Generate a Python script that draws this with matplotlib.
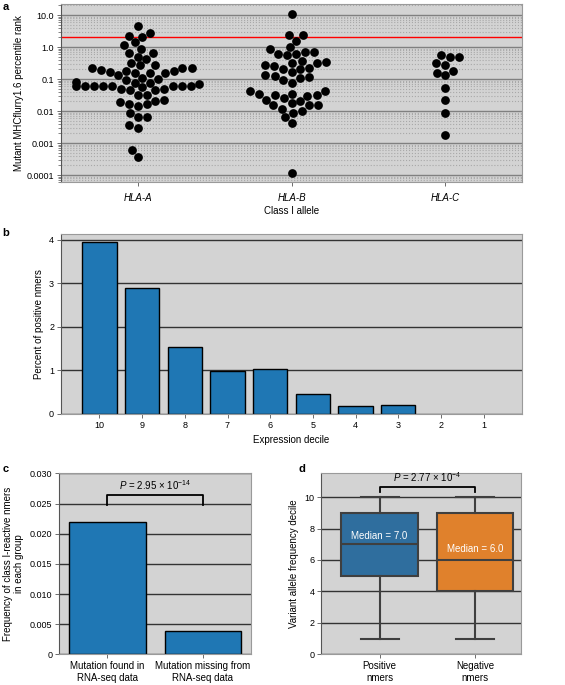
import matplotlib
matplotlib.use("Agg")
import matplotlib.pyplot as plt
import numpy as np
import pandas as pd
import seaborn as sns

plt.rcParams['font.family'] = ['Liberation Sans', 'DejaVu Sans']
plt.rcParams['mathtext.fontset'] = 'custom'
plt.rcParams['mathtext.rm'] = 'Liberation Sans'
plt.rcParams['mathtext.it'] = 'Liberation Sans:italic'
plt.rcParams['font.size'] = 7

BG = '#d3d3d3'

# panel a: mutant percentile ranks per allele
hla_a = [4.5, 2.26, 2.1, 2.7, 1.13, 1.4, 0.89, 0.67, 0.67, 0.5, 0.43, 0.27, 0.32,
         0.215, 0.215, 0.27, 0.215, 0.18, 0.17, 0.16, 0.16, 0.13, 0.16, 0.18, 0.19,
         0.093, 0.077, 0.11, 0.077, 0.1, 0.07, 0.063, 0.06, 0.06, 0.055, 0.05,
         0.044, 0.06, 0.044, 0.05, 0.06, 0.06, 0.063, 0.063, 0.08, 0.022, 0.021,
         0.017, 0.032, 0.014, 0.032, 0.017, 0.019, 0.0085, 0.0065, 0.0065, 0.0036,
         0.003, 0.0006, 0.00037]
hla_b = [10.7, 2.4, 2.3, 1.55, 1.0, 0.71, 0.63, 0.63, 0.71, 0.89, 0.55, 0.37, 0.32,
         0.32, 0.26, 0.21, 0.17, 0.2, 0.23, 0.27, 0.34, 0.117, 0.093, 0.077, 0.125,
         0.105, 0.13, 0.042, 0.034, 0.034, 0.03, 0.02, 0.016, 0.022, 0.031, 0.031,
         0.042, 0.012, 0.015, 0.026, 0.018, 0.015, 0.01, 0.009, 0.0066, 0.0044,
         0.00012]
hla_c = [0.55, 0.5, 0.48, 0.32, 0.28, 0.18, 0.16, 0.13, 0.052, 0.023, 0.0085, 0.0018]
alleles = ['HLA-A', 'HLA-B', 'HLA-C']
threshold = 2.0

# panel b: percent positive by expression decile
deciles = ['10', '9', '8', '7', '6', '5', '4', '3', '2', '1']
pct_positive = [3.95, 2.9, 1.53, 0.98, 1.02, 0.45, 0.18, 0.21, 0.0, 0.0]

# panel c
rna_groups = ['Mutation found in\nRNA-seq data', 'Mutation missing from\nRNA-seq data']
rna_freq = [0.0219, 0.0039]
p_c = r'$P$ = 2.95 × 10$^{-14}$'

# panel d: VAF decile boxes
vaf_groups = ['Positive\nnmers', 'Negative\nnmers']
vaf_q1 = [5, 4]
vaf_med = [7, 6]
vaf_q3 = [9, 9]
vaf_lo = [1, 1]
vaf_hi = [10, 10]
vaf_colors = ['#2f6e9e', '#e0812c']
p_d = r'$P$ = 2.77 × 10$^{-4}$'

fig = plt.figure(figsize=(5.65, 6.85), dpi=100)


def style(ax, gridcolor='#333333'):
    ax.set_facecolor(BG)
    ax.set_axisbelow(True)
    ax.yaxis.grid(True, color=gridcolor, lw=1)
    for s in ax.spines.values():
        s.set_color('#9a9a9a')
    ax.spines['left'].set_color('#555555')
    ax.tick_params(length=3, width=0.6, color='#555555', labelsize=6.5, pad=2)


# ---- a ----
ax = fig.add_axes([0.108, 0.734, 0.816, 0.260])
df = pd.DataFrame({'allele': ['HLA-A'] * len(hla_a) + ['HLA-B'] * len(hla_b) + ['HLA-C'] * len(hla_c),
                   'rank': hla_a + hla_b + hla_c})
ax.set_yscale('log')
ax.set_ylim(6e-5, 22)
sns.swarmplot(x='allele', y='rank', data=df, order=alleles, color='black', size=6.3, ax=ax, zorder=3)
style(ax, '#808080')
ax.yaxis.grid(True, which='minor', color='#a8a8a8', ls=':', lw=0.8)
ax.set_yticks([1e-4, 1e-3, 1e-2, 1e-1, 1, 10])
ax.set_yticklabels(['0.0001', '0.001', '0.01', '0.1', '1.0', '10.0'])
ax.tick_params(axis='y', which='minor', length=2, width=0.5, color='#555555')
ax.tick_params(axis='x', pad=5)
ax.axhline(threshold, color='red', lw=1, zorder=2)
ax.set_xlim(-0.5, 2.5)
ax.set_xticks(range(3))
ax.set_xticklabels(alleles, style='italic', fontsize=7)
ax.set_xlabel('Class I allele', fontsize=7, labelpad=2)
ax.set_ylabel('Mutant MHCflurry1.6 percentile rank', fontsize=7, labelpad=2)

# ---- b ----
ax = fig.add_axes([0.108, 0.396, 0.816, 0.263])
style(ax)
bars = ax.bar(range(len(deciles)), pct_positive, width=0.8, color='#1f77b4', edgecolor='black', lw=1)
for b, v in zip(bars, pct_positive):
    if v == 0:
        b.set_linewidth(0)
ax.set_xticks(range(len(deciles)))
ax.set_xticklabels(deciles)
ax.set_xlim(-0.9, 9.9)
ax.set_ylim(0, 4.14)
ax.set_yticks(range(5))
ax.set_xlabel('Expression decile', fontsize=7)
ax.set_ylabel('Percent of positive nmers', fontsize=7)

# ---- c ----
ax = fig.add_axes([0.105, 0.0448, 0.339, 0.264])
style(ax)
ax.bar(range(2), rna_freq, width=0.8, color='#1f77b4', edgecolor='black', lw=1)
ax.set_xticks(range(2))
ax.set_xticklabels(rna_groups, fontsize=7)
ax.set_xlim(-0.5, 1.5)
ax.set_ylim(0, 0.030)
ax.set_yticks(np.arange(0, 0.0301, 0.005))
ax.set_yticklabels(['0', '0.005', '0.010', '0.015', '0.020', '0.025', '0.030'])
ax.plot([0, 0, 1, 1], [0.0247, 0.0264, 0.0264, 0.0247], color='black', lw=1.3)
ax.text(0.5, 0.0269, p_c, ha='center', va='bottom', fontsize=7)
ax.set_ylabel('Frequency of class I-reactive nmers\nin each group', fontsize=7)

# ---- d ----
ax = fig.add_axes([0.569, 0.0448, 0.354, 0.264])
style(ax)
stats = [dict(med=m, q1=a, q3=b, whislo=lo, whishi=hi, fliers=[])
         for m, a, b, lo, hi in zip(vaf_med, vaf_q1, vaf_q3, vaf_lo, vaf_hi)]
bp = ax.bxp(stats, positions=range(2), widths=0.8, patch_artist=True, showfliers=False,
            boxprops=dict(edgecolor='#3f3f3f', lw=1.5),
            medianprops=dict(color='#3f3f3f', lw=1.5),
            whiskerprops=dict(color='#3f3f3f', lw=1.5),
            capprops=dict(color='#3f3f3f', lw=1.5))
for patch, c in zip(bp['boxes'], vaf_colors):
    patch.set_facecolor(c)
ax.text(0, 7.55, 'Median = 7.0', color='white', ha='center', va='center', fontsize=7)
ax.text(1, 6.69, 'Median = 6.0', color='white', ha='center', va='center', fontsize=7)
ax.plot([0, 0, 1, 1], [10.3, 10.66, 10.66, 10.3], color='black', lw=1.3)
ax.text(0.5, 10.8, p_d, ha='center', va='bottom', fontsize=7)
ax.set_xticks(range(2))
ax.set_xticklabels(vaf_groups, fontsize=7)
ax.set_xlim(-0.61, 1.49)
ax.set_ylim(0, 11.5)
ax.set_yticks(range(0, 11, 2))
ax.set_ylabel('Variant allele frequency decile', fontsize=7)

for x, y, s in [(0.004, 0.997, 'a'), (0.004, 0.667, 'b'), (0.004, 0.322, 'c'), (0.528, 0.322, 'd')]:
    fig.text(x, y, s, fontweight='bold', fontsize=8, va='top')

fig.savefig('out.png', dpi=100)
